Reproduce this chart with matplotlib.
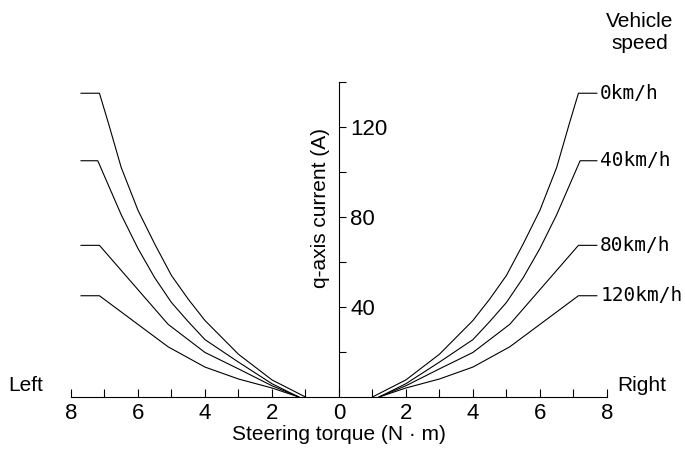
import matplotlib
matplotlib.use("Agg")
import matplotlib.pyplot as plt
from matplotlib import font_manager
from matplotlib.ticker import FixedLocator

# steering torque magnitude (N·m) and q-axis current (A) for each vehicle speed
speeds = ["0km/h", "40km/h", "80km/h", "120km/h"]
torque = [
    [1.0, 2, 3, 4, 4.5, 5, 5.5, 6, 6.5, 6.88, 7.15, 7.7],
    [1.2, 2, 3, 4, 4.5, 5, 5.5, 6, 6.5, 7.2, 7.7],
    [1.2, 2, 3, 4, 5.1, 7.15, 7.7],
    [1.2, 2, 3, 4, 5.1, 7.15, 7.7],
]
current = [
    [0, 7.6, 19, 34, 43.5, 54, 68, 83, 102, 121.6, 135, 135],
    [0, 5.9, 15.5, 25.5, 33.5, 42, 53, 66, 81, 105, 105],
    [0, 5.0, 12.5, 19.8, 32.3, 67.4, 67.4],
    [0, 4.0, 8.0, 13.3, 22.3, 45, 45],
]
x_ticks = [-8, -6, -4, -2, 0, 2, 4, 6, 8]
x_ticklabels = ["8", "6", "4", "2", "0", "2", "4", "6", "8"]
y_ticks = [40, 80, 120]

names = {f.name for f in font_manager.fontManager.ttflist}
main_font = "Liberation Sans Narrow" if "Liberation Sans Narrow" in names else "Liberation Sans"
plt.rcParams["font.family"] = [main_font, "DejaVu Sans"]
fs = 15

fig = plt.figure(figsize=(6.85, 4.55), dpi=100)
ax = fig.add_axes([0.1036, 0.1275, 0.7824, 0.6923])

for t, c in zip(torque, current):
    ax.plot(t, c, color="black", lw=0.8)
    ax.plot([-v for v in t], c, color="black", lw=0.8)

for name, c in zip(speeds, current):
    ax.text(7.8, c[-1], name, ha="left", va="center", fontsize=14,
            family=["DejaVu Sans Mono"], clip_on=False)

ax.set_xlim(-8, 8)
ax.set_ylim(0, 140)

ax.spines["top"].set_visible(False)
ax.spines["left"].set_visible(False)
ax.spines["right"].set_position(("data", 0))
ax.spines["right"].set_linewidth(0.8)
ax.spines["bottom"].set_linewidth(0.8)

ax.yaxis.set_ticks_position("right")
ax.set_yticks(y_ticks)
ax.yaxis.set_minor_locator(FixedLocator([20, 60, 100, 140]))
ax.tick_params(axis="y", which="both", direction="out", length=5, width=0.8,
               labelsize=fs + 1, pad=3)

ax.set_xticks(x_ticks)
ax.set_xticklabels(x_ticklabels)
ax.xaxis.set_minor_locator(FixedLocator([-7, -5, -3, -1, 1, 3, 5, 7]))
ax.tick_params(axis="x", which="both", direction="in", length=6, width=0.8,
               labelsize=fs + 1, pad=4)

ax.set_xlabel("Steering torque (N · m)", fontsize=fs, labelpad=1)
ax.text(-0.55, 84, "q-axis current (A)", rotation=90, ha="center", va="center",
        fontsize=fs)

ax.text(-9.35, 5, "Left", ha="center", va="center", fontsize=fs, clip_on=False)
ax.text(9.05, 5, "Right", ha="center", va="center", fontsize=fs, clip_on=False)
ax.text(8.98, 162, "Vehicle\nspeed", ha="center", va="center", fontsize=fs,
        linespacing=1.2, clip_on=False)

fig.savefig("out.png", dpi=100)
